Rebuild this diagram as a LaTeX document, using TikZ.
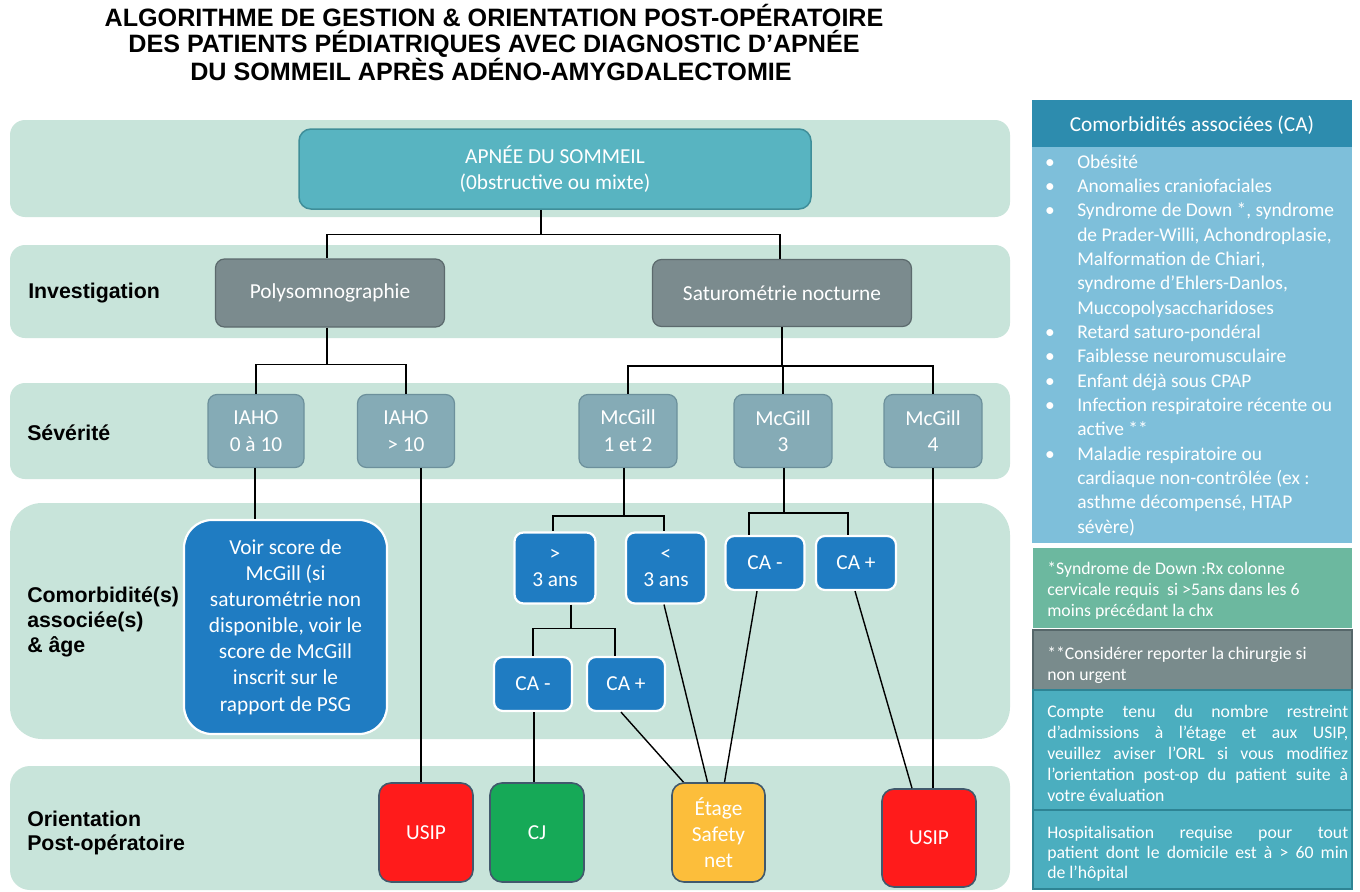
\documentclass[tikz,border=0pt]{standalone}
\usepackage{fontspec}
\setmainfont{Carlito}
\newfontfamily\arialf{Liberation Sans}
\newlength\pxu
\setlength\pxu{0.75pt}
\definecolor{bandc}{HTML}{C8E4DA}
\definecolor{topc}{HTML}{58B4C1}
\definecolor{topb}{HTML}{3F8E99}
\definecolor{grayc}{HTML}{7B8B8E}
\definecolor{grayb}{HTML}{5C6A6D}
\definecolor{sevc}{HTML}{85ABB6}
\definecolor{sevb}{HTML}{6C909B}
\definecolor{bluec}{HTML}{1F7CC2}
\definecolor{usipc}{HTML}{FF1B1B}
\definecolor{cjc}{HTML}{16A957}
\definecolor{etc}{HTML}{FCBE3B}
\definecolor{resb}{HTML}{41596C}
\definecolor{hdrc}{HTML}{2D8CAE}
\definecolor{bodyc}{HTML}{7EBFDA}
\definecolor{greenc}{HTML}{6CB89F}
\definecolor{gboxc}{HTML}{798B8C}
\definecolor{gboxb}{HTML}{56676A}
\definecolor{tealc}{HTML}{4BAEBF}
\definecolor{tealb}{HTML}{2E8494}
\newcommand\lin[4]{\node[#1, anchor=base west] (#2) at (#3) {#4};}
\newcommand\jline[1]{\makebox[301\pxu][s]{#1}}
\begin{document}
\begin{tikzpicture}[x=0.75pt,y=-0.75pt,
  conn/.style={draw=black, line width=1.4\pxu},
  nbox/.style={rounded corners=9\pxu, inner sep=0pt, align=center, text=white,
    font=\fontsize{16}{20}\selectfont, line width=1.2\pxu},
  topbox/.style={nbox, fill=topc, draw=topb, line width=1.5\pxu, rounded corners=12\pxu},
  invbox/.style={nbox, fill=grayc, draw=grayb},
  sevbox/.style={nbox, fill=sevc, draw=sevb, minimum width=98\pxu, minimum height=73\pxu},
  bluebox/.style={nbox, fill=bluec, draw=white, line width=2.2\pxu, font=\fontsize{16}{19.6}\selectfont},
  resbox/.style={nbox, draw=resb, line width=1.6\pxu, rounded corners=12\pxu,
    minimum width=94\pxu, minimum height=99\pxu, font=\fontsize{16}{19.6}\selectfont},
  lab/.style={font=\arialf\bfseries\fontsize{16}{18.7}\selectfont, align=left, anchor=west, inner sep=0pt},
  ttl/.style={font=\arialf\bfseries\fontsize{18.85}{20}\selectfont, anchor=base, inner sep=0pt},
  rtext/.style={text=white, inner sep=0pt, font=\fontsize{14.6}{18}\selectfont},
  stext/.style={text=white, inner sep=0pt, font=\fontsize{13.3}{16}\selectfont},
]
\useasboundingbox (0,0) rectangle (1360,892);
\fill[white] (0,0) rectangle (1360,892);

% bands
\fill[bandc, rounded corners=15\pxu] (10,120) rectangle (1010,217);
\fill[bandc, rounded corners=15\pxu] (10,245) rectangle (1010,338);
\fill[bandc, rounded corners=15\pxu] (10,383) rectangle (1010,479);
\fill[bandc, rounded corners=32\pxu] (10,503) rectangle (1010,739);
\fill[bandc, rounded corners=20\pxu] (10,766) rectangle (1010,890);

% title
\node[ttl] (t1) at (494,27) {ALGORITHME DE GESTION \& ORIENTATION POST-OPÉRATOIRE};
\node[ttl] (t2) at (494,53) {DES PATIENTS PÉDIATRIQUES AVEC DIAGNOSTIC D’APNÉE};
\node[ttl] (t3) at (491,80) {DU SOMMEIL APRÈS ADÉNO-AMYGDALECTOMIE};

% row labels
\node[lab] (lInv) at (28,293) {Investigation};
\node[lab] (lSev) at (27,433) {Sévérité};
\node[lab] (lCom) at (27,622) {Comorbidité(s)\\associée(s)\\\& âge};
\node[lab] (lOri) at (27,833) {Orientation\\Post-opératoire};

% nodes
\node[topbox, minimum width=512\pxu, minimum height=80\pxu] (top) at (555,169)
  {APNÉE DU SOMMEIL\\(0bstructive ou mixte)};
\node[invbox, minimum width=229\pxu, minimum height=68\pxu] (poly) at (330,293) {Polysomnographie};
\node[invbox, minimum width=259\pxu, minimum height=67\pxu] (satur) at (782,293) {Saturométrie nocturne};
\node[sevbox, minimum width=96\pxu] (iaho1) at (256,431) {IAHO\\0 à 10};
\node[sevbox, minimum width=97\pxu] (iaho2) at (406,431) {IAHO\\> 10};
\node[sevbox] (mg12) at (628,431) {McGill\\1 et 2};
\node[sevbox] (mg3) at (783,431) {McGill\\3};
\node[sevbox] (mg4) at (933,431) {McGill\\4};
\node[bluebox, minimum width=81\pxu, minimum height=71\pxu] (gt3) at (555,568) {>\\3 ans};
\node[bluebox, minimum width=80\pxu, minimum height=71\pxu] (lt3) at (666,568) {<\\3 ans};
\node[bluebox, minimum width=79\pxu, minimum height=54\pxu] (cam3) at (765,563) {CA -};
\node[bluebox, minimum width=80\pxu, minimum height=54\pxu] (cap3) at (856,563) {CA +};
\node[bluebox, minimum width=78\pxu, minimum height=54\pxu] (cam) at (533,684) {CA -};
\node[bluebox, minimum width=78\pxu, minimum height=54\pxu] (cap) at (626,684) {CA +};
\node[bluebox, rounded corners=28\pxu, minimum width=203\pxu, minimum height=214\pxu] (voir) at (285.5,627)
  {Voir score de\\McGill (si\\saturométrie non\\disponible, voir le\\score de McGill\\inscrit sur le\\rapport de PSG};
\node[resbox, fill=usipc] (usip1) at (426,832.5) {USIP};
\node[resbox, fill=cjc] (cj) at (537,832.5) {CJ};
\node[resbox, fill=etc, minimum width=93\pxu] (etage) at (718.5,832.5) {Étage\\Safety\\net};
\node[resbox, fill=usipc, minimum height=98\pxu] (usip2) at (929,838) {USIP};

% connectors
\draw[conn] ([xshift=-14\pxu]top.south) -- ++(0,25) coordinate (b0);
\draw[conn] (b0) -| ([xshift=-3\pxu]poly.north);
\draw[conn] (b0) -| ([xshift=-2\pxu]satur.north);
\draw[conn] ([xshift=-3\pxu]poly.south) -- ++(0,37) coordinate (b1);
\draw[conn] (b1) -| (iaho1.north);
\draw[conn] (b1) -| (iaho2.north);
\draw[conn] (satur.south) -- ++(0,39) coordinate (b2);
\draw[conn] (b2) -| (mg12.north);
\draw[conn] (b2) -| (mg3.north);
\draw[conn] (b2) -| (mg4.north);
\draw[conn] ([xshift=-1\pxu]iaho1.south) -- ([xshift=-1\pxu]iaho1.south |- voir.north);
\draw[conn] ([xshift=15\pxu]iaho2.south) -- ([xshift=15\pxu]iaho2.south |- usip1.north);
\draw[conn] ([xshift=-4\pxu]mg12.south) -- ++(0,48) coordinate (b3);
\draw[conn] (b3) -| ([xshift=-2\pxu]gt3.north);
\draw[conn] (b3) -| ([xshift=-2\pxu]lt3.north);
\draw[conn] ([xshift=1\pxu]mg3.south) -- ++(0,45) coordinate (b4);
\draw[conn] (b4) -| ([xshift=-16\pxu]cam3.north);
\draw[conn] (b4) -| ([xshift=-8\pxu]cap3.north);
\draw[conn] (mg4.south) -- (mg4.south |- usip2.north);
\draw[conn] ([xshift=16\pxu]gt3.south) -- ++(0,24) coordinate (b5);
\draw[conn] (b5) -| (cam.north);
\draw[conn] (b5) -| ([xshift=-11\pxu]cap.north);
\draw[conn] ([xshift=1\pxu]cam.south) -- ([xshift=1\pxu]cam.south |- cj.north);
\draw[conn] ([xshift=-5\pxu]cap.south) -- ([xshift=-35\pxu]etage.north);
\draw[conn] ([xshift=-2\pxu]lt3.south) -- ([xshift=-11\pxu]etage.north);
\draw[conn] ([xshift=-8\pxu]cam3.south) -- ([xshift=6\pxu]etage.north);
\draw[conn] ([xshift=-1\pxu]cap3.south) -- ([xshift=-17\pxu]usip2.north);

% right panel
\fill[hdrc] (1032,100) rectangle (1352,147);
\fill[bodyc] (1032,147) rectangle (1352,543);
\fill[greenc] (1033,548) rectangle (1352,628);
\filldraw[fill=gboxc, draw=gboxb, line width=1.2\pxu] (1033,630) rectangle (1352,690);
\filldraw[fill=tealc, draw=tealb, line width=1.2\pxu] (1033,690) rectangle (1352,810);
\filldraw[fill=tealc, draw=tealb, line width=1.2\pxu] (1033,810) rectangle (1352,889);

\node[text=white, inner sep=0pt, font=\fontsize{16}{19}\selectfont] (hdr) at (1192,125) {Comorbidités associées (CA)};

\node[rtext, anchor=base] (u1) at (1050,168) {•};
\node[rtext, anchor=base] (u2) at (1050,192.3) {•};
\node[rtext, anchor=base] (u3) at (1050,216.7) {•};
\node[rtext, anchor=base] (u4) at (1050,338.3) {•};
\node[rtext, anchor=base] (u5) at (1050,362.7) {•};
\node[rtext, anchor=base] (u6) at (1050,387) {•};
\node[rtext, anchor=base] (u7) at (1050,411.3) {•};
\node[rtext, anchor=base] (u8) at (1050,460) {•};
\lin{rtext}{c1}{1077,168}{Obésité}
\lin{rtext}{c2}{1077,192.3}{Anomalies craniofaciales}
\lin{rtext}{c3}{1077,216.7}{Syndrome de Down *, syndrome}
\lin{rtext}{c4}{1077,241}{de Prader-Willi, Achondroplasie,}
\lin{rtext}{c5}{1077,265.3}{Malformation de Chiari,}
\lin{rtext}{c6}{1077,289.7}{syndrome d’Ehlers-Danlos,}
\lin{rtext}{c7}{1077,314}{Muccopolysaccharidoses}
\lin{rtext}{c8}{1077,338.3}{Retard saturo-pondéral}
\lin{rtext}{c9}{1077,362.7}{Faiblesse neuromusculaire}
\lin{rtext}{c10}{1077,387}{Enfant déjà sous CPAP}
\lin{rtext}{c11}{1077,411.3}{Infection respiratoire récente ou}
\lin{rtext}{c12}{1077,435.7}{active **}
\lin{rtext}{c13}{1077,460}{Maladie respiratoire ou}
\lin{rtext}{c14}{1077,484.3}{cardiaque non-contrôlée (ex :}
\lin{rtext}{c15}{1077,508.7}{asthme décompensé, HTAP}
\lin{rtext}{c16}{1077,533}{sévère)}

\lin{stext}{g1}{1047,574}{*Syndrome de Down :Rx colonne}
\lin{stext}{g2}{1047,595}{cervicale requis \ si >5ans dans les 6}
\lin{stext}{g3}{1047,616}{moins précédant la chx}

\lin{stext}{k1}{1047,659}{**Considérer reporter la chirurgie si}
\lin{stext}{k2}{1047,680}{non urgent}

\lin{stext}{p1}{1047,717}{\jline{Compte tenu du nombre restreint}}
\lin{stext}{p2}{1047,738}{\jline{d’admissions à l’étage et aux USIP,}}
\lin{stext}{p3}{1047,759}{\jline{veuillez aviser l’ORL si vous modifiez}}
\lin{stext}{p4}{1047,780}{\jline{l’orientation post-op du patient suite à}}
\lin{stext}{p5}{1047,801}{votre évaluation}

\lin{stext}{q1}{1047,838}{\jline{Hospitalisation requise pour tout}}
\lin{stext}{q2}{1047,858}{\jline{patient dont le domicile est à > 60 min}}
\lin{stext}{q3}{1047,878}{de l’hôpital}
\end{tikzpicture}
\end{document}
